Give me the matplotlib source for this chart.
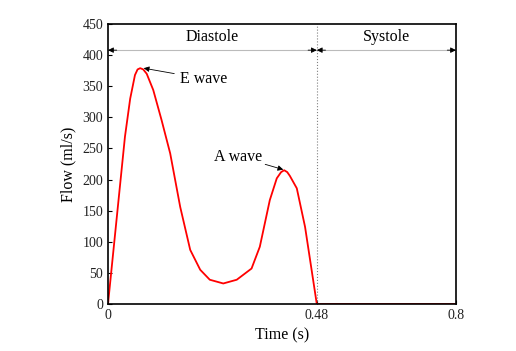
import numpy as np
import matplotlib.pyplot as plt

plt.rcParams['font.family'] = ['Liberation Serif', 'DejaVu Serif']

# flow curve
time = [0, 0.039, 0.051, 0.062, 0.068, 0.074, 0.081, 0.089, 0.104, 0.123, 0.143,
        0.166, 0.189, 0.212, 0.234, 0.265, 0.296, 0.330, 0.349, 0.372, 0.388,
        0.398, 0.405, 0.412, 0.418, 0.434, 0.453, 0.48, 0.8]
flow = [0, 269, 330, 368, 377, 379, 377, 370, 344, 296, 242,
        156, 87, 55, 39, 33, 39, 57, 92, 167, 202,
        212, 215, 212, 206, 186, 124, 0, 0]

phase_names = ["Diastole", "Systole"]
phase_bounds = [0, 0.48, 0.8]

fig = plt.figure(figsize=(5.16, 3.51), dpi=100)
ax = fig.add_axes([0.2093, 0.1339, 0.6744, 0.7977])

ax.plot(time, flow, color='red', lw=1.3)
ax.axvline(0.48, color='gray', ls=':', lw=0.8)

# phase arrows: gray shaft, black heads
head = dict(arrowstyle='-|>', color='black', lw=0.6, shrinkA=0, shrinkB=0,
            mutation_scale=8)
for i, name in enumerate(phase_names):
    a, b = phase_bounds[i], phase_bounds[i + 1]
    ax.plot([a, b], [408, 408], color='#bbbbbb', lw=0.8)
    ax.annotate('', xy=(a, 408), xytext=(a + 0.02, 408), arrowprops=head)
    ax.annotate('', xy=(b, 408), xytext=(b - 0.02, 408), arrowprops=head)
    ax.text((a + b) / 2, 429, name, ha='center', va='center', fontsize=11.5)

ax.annotate('E wave', xy=(0.082, 379), xytext=(0.165, 362),
            fontsize=11.5, ha='left', va='center',
            arrowprops=dict(arrowstyle='-|>', color='black', lw=0.6,
                            mutation_scale=8, shrinkA=2, shrinkB=0))
ax.annotate('A wave', xy=(0.403, 216), xytext=(0.355, 237),
            fontsize=11.5, ha='right', va='center',
            arrowprops=dict(arrowstyle='-|>', color='black', lw=0.6,
                            mutation_scale=8, shrinkA=0, shrinkB=0))

ax.set_xlim(0, 0.8)
ax.set_ylim(0, 450)
ax.set_xticks([0, 0.48, 0.8])
ax.set_xticklabels(['0', '0.48', '0.8'])
ax.set_yticks(np.arange(0, 451, 50))
ax.tick_params(direction='in', labelsize=10, length=3, labelcolor='#222222')
for s in ax.spines.values():
    s.set_linewidth(1.2)

ax.set_xlabel('Time (s)', fontsize=11.5)
ax.set_ylabel('Flow (ml/s)', fontsize=11.5)

fig.savefig('out.png', dpi=100)
